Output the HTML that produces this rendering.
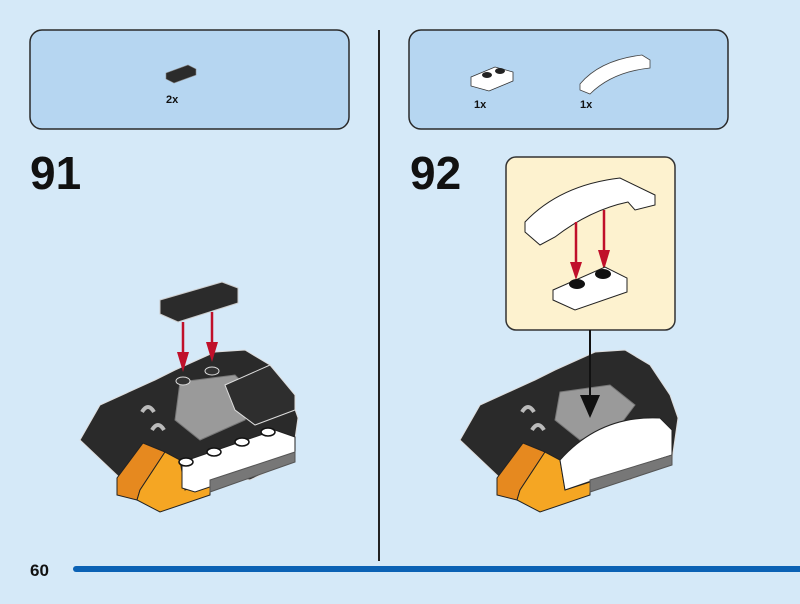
<!DOCTYPE html>
<html><head><meta charset="utf-8"><style>
html,body{margin:0;padding:0;background:#d5e9f8;}
svg{display:block}
text{font-family:"Liberation Sans",sans-serif;font-weight:bold;fill:#111}
</style></head><body>
<svg width="800" height="604" viewBox="0 0 800 604" xmlns="http://www.w3.org/2000/svg">
<rect width="800" height="604" fill="#d5e9f8"/>
<rect x="30" y="30" width="319" height="99" rx="12" fill="#b6d6f1" stroke="#2a2a2a" stroke-width="1.5"/>
<rect x="409" y="30" width="319" height="99" rx="12" fill="#b6d6f1" stroke="#2a2a2a" stroke-width="1.5"/>
<line x1="379" y1="30" x2="379" y2="561" stroke="#222" stroke-width="2"/>
<line x1="76" y1="569" x2="800" y2="569" stroke="#0b62b5" stroke-width="6" stroke-linecap="round"/>
<text x="30" y="576" font-size="17">60</text>
<text x="30" y="189" font-size="46">91</text>
<text x="410" y="189" font-size="46">92</text>
<!-- panel parts -->
<polygon points="166,73 188,65 196,69 196,75 174,83 166,79" fill="#2b2b2b" stroke="#888" stroke-width="0.6"/>
<text x="166" y="103" font-size="11">2x</text>
<polygon points="471,77 495,67 513,72 513,81 489,91 471,86" fill="#fff" stroke="#333" stroke-width="0.8"/>
<ellipse cx="487" cy="75" rx="5" ry="3" fill="#222"/><ellipse cx="500" cy="71" rx="5" ry="3" fill="#222"/>
<text x="474" y="108" font-size="11">1x</text>
<path d="M580,84 Q600,60 642,55 L650,60 L650,68 Q612,72 590,94 L580,90 Z" fill="#fff" stroke="#444" stroke-width="0.8"/>
<text x="580" y="108" font-size="11">1x</text>
<!-- callout -->
<rect x="506" y="157" width="169" height="173" rx="10" fill="#fdf2cf" stroke="#333" stroke-width="1.5"/>
<path d="M525,222 Q560,185 620,178 L655,195 L655,205 L635,210 L628,202 Q590,210 555,237 L540,245 L525,232 Z" fill="#fff" stroke="#222" stroke-width="1"/>
<line x1="576" y1="222" x2="576" y2="270" stroke="#c0102a" stroke-width="2.5"/>
<polygon points="570,262 582,262 576,280" fill="#c0102a"/>
<line x1="604" y1="210" x2="604" y2="258" stroke="#c0102a" stroke-width="2.5"/>
<polygon points="598,250 610,250 604,270" fill="#c0102a"/>
<polygon points="553,290 605,267 627,278 627,292 575,310 553,300" fill="#fff" stroke="#222" stroke-width="1"/>
<ellipse cx="577" cy="284" rx="8" ry="5" fill="#111"/><ellipse cx="603" cy="274" rx="8" ry="5" fill="#111"/>
<!-- left model -->
<g stroke="#ddd" stroke-width="1">
<polygon points="80,440 100,405 155,380 175,370 215,352 245,350 270,365 290,395 298,418 292,460 250,480 185,470 150,488 120,478" fill="#2a2a2a"/>
<polygon points="180,382 235,375 255,395 245,420 200,440 175,420" fill="#9a9a9a" stroke="#777"/>
<polygon points="225,385 270,365 295,395 295,410 255,425 235,410" fill="#2e2e2e"/>
<polygon points="117,478 143,443 165,452 140,490 137,500 117,495" fill="#e6891f" stroke="#222"/>
<polygon points="140,490 165,452 180,460 185,490 210,482 210,495 160,512 137,500" fill="#f5a623" stroke="#222"/>
<polygon points="182,462 275,430 295,437 295,458 195,492 182,488" fill="#fff" stroke="#222"/>
<polygon points="210,480 295,452 295,462 210,492" fill="#777" stroke="#555"/>
</g>
<g fill="#fff" stroke="#111" stroke-width="1.5">
<ellipse cx="186" cy="462" rx="7" ry="4"/><ellipse cx="214" cy="452" rx="7" ry="4"/><ellipse cx="242" cy="442" rx="7" ry="4"/><ellipse cx="268" cy="432" rx="7" ry="4"/>
</g>
<ellipse cx="183" cy="381" rx="7" ry="4" fill="#333" stroke="#ddd"/><ellipse cx="212" cy="371" rx="7" ry="4" fill="#333" stroke="#ddd"/>
<polygon points="160,300 222,282 238,288 238,303 178,322 160,314" fill="#2b2b2b" stroke="#ccc"/>
<line x1="183" y1="322" x2="183" y2="358" stroke="#c0102a" stroke-width="2.5"/>
<polygon points="177,352 189,352 183,372" fill="#c0102a"/>
<line x1="212" y1="312" x2="212" y2="348" stroke="#c0102a" stroke-width="2.5"/>
<polygon points="206,342 218,342 212,362" fill="#c0102a"/>
<path d="M142,412 q6,-10 12,0 M152,430 q6,-10 12,0" stroke="#bbb" stroke-width="4" fill="none"/>
<!-- right model -->
<g stroke="#ddd" stroke-width="1">
<polygon points="460,440 480,405 535,380 555,370 595,352 625,350 650,365 670,395 678,418 672,460 630,480 565,470 530,488 500,478" fill="#2a2a2a"/>
<polygon points="560,392 610,385 635,405 620,425 580,440 555,420" fill="#9a9a9a" stroke="#777"/>
<polygon points="497,478 523,443 545,452 520,490 517,500 497,495" fill="#e6891f" stroke="#222"/>
<polygon points="520,490 545,452 560,460 565,490 590,482 590,495 540,512 517,500" fill="#f5a623" stroke="#222"/>
<path d="M560,460 Q600,415 660,418 L672,430 L672,455 L600,478 L565,490 Z" fill="#fff" stroke="#222"/>
<polygon points="590,480 672,455 672,465 590,492" fill="#777" stroke="#555"/>
</g>
<path d="M522,412 q6,-10 12,0 M532,430 q6,-10 12,0" stroke="#bbb" stroke-width="4" fill="none"/>
<line x1="590" y1="330" x2="590" y2="400" stroke="#111" stroke-width="2"/>
<polygon points="580,395 600,395 590,418" fill="#111"/>
</svg>
</body></html>
